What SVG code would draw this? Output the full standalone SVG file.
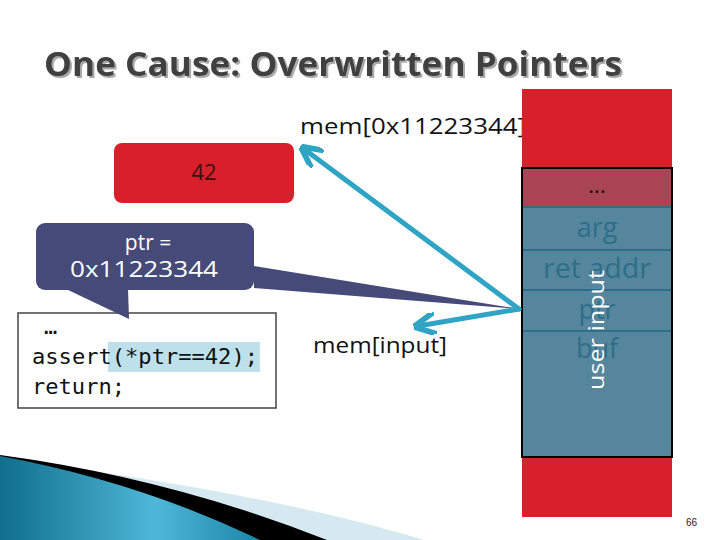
<svg xmlns="http://www.w3.org/2000/svg" width="720" height="540" viewBox="0 0 720 540">
<defs>
<style>
.t{font-family:"Open Sans","DejaVu Sans",sans-serif;}
.mono{font-family:"DejaVu Sans Mono","Liberation Mono",monospace;font-size:22px;fill:#111;}
.cell{font-family:"Open Sans","DejaVu Sans",sans-serif;font-size:27px;fill:#2c6f88;text-anchor:middle;}
.line{stroke:#2c6f88;stroke-width:2;}
.arr{stroke:#2fa4c4;stroke-width:5;fill:none;stroke-linecap:round;}
</style>
<filter id="sh" x="-5%" y="-20%" width="110%" height="140%">
<feDropShadow dx="2" dy="2" stdDeviation="0.6" flood-color="#aaa" flood-opacity="1"/>
</filter>
<linearGradient id="tg" x1="0" y1="0" x2="1" y2="0">
<stop offset="0" stop-color="#0f6f8c"/>
<stop offset="0.6" stop-color="#4fb7d8"/>
<stop offset="1" stop-color="#1a86a8"/>
</linearGradient>
<marker id="ah" viewBox="0 0 10 10" refX="8" refY="5" markerWidth="4.4" markerHeight="4.4" orient="auto">
<path d="M0,0 L10,5 L0,10" fill="none" stroke="#2fa4c4" stroke-width="2.6" stroke-linejoin="miter"/>
</marker>
</defs>
<rect width="720" height="540" fill="#fff"/>

<g id="decor">
<path d="M0,455 L100,472 Q300,502 424,540 L0,540 Z" fill="#d7e9f0"/>
<path d="M0,455 Q170,478 327,540 L0,540 Z" fill="#000"/>
<path d="M0,456 Q140,482 260,540 L0,540 Z" fill="url(#tg)"/>
</g>

<g id="title">
<text x="44" y="76" class="t" font-size="34" font-weight="bold" fill="#404040" filter="url(#sh)" textLength="578" lengthAdjust="spacingAndGlyphs">One Cause: Overwritten Pointers</text>
</g>

<g id="label-mem-addr">
<text x="300" y="134" class="t" font-size="21" fill="#111" textLength="226" lengthAdjust="spacingAndGlyphs">mem[0x11223344]</text>
</g>

<g id="stack">
<rect x="522" y="89" width="150" height="428" fill="#d9202a"/>
<rect x="522" y="168" width="150" height="39" fill="#a84454"/>
<rect x="522" y="207" width="150" height="250" fill="#55869e"/>
<line x1="522" y1="207" x2="672" y2="207" class="line"/>
<line x1="522" y1="250" x2="672" y2="250" class="line"/>
<line x1="522" y1="290" x2="672" y2="290" class="line"/>
<line x1="522" y1="331" x2="672" y2="331" class="line"/>
<rect x="522" y="168" width="150" height="289" fill="none" stroke="#000" stroke-width="2"/>
<text x="597" y="193" class="t" font-size="22" fill="#111" text-anchor="middle">...</text>
<text x="597" y="237" class="cell">arg</text>
<text x="597" y="278" class="cell" textLength="108" lengthAdjust="spacingAndGlyphs">ret addr</text>
<text x="597" y="319" class="cell">ptr</text>
<text x="597" y="358" class="cell">buf</text>
<text transform="translate(604,330) rotate(-90)" class="t" font-size="21" fill="#fff" text-anchor="middle" textLength="120" lengthAdjust="spacingAndGlyphs">user input</text>
</g>

<g id="value-42">
<rect x="114" y="143" width="180" height="60" rx="8" fill="#d9202a"/>
<text x="204" y="180" class="t" font-size="22" fill="#3a1212" text-anchor="middle">42</text>
</g>

<g id="code">
<rect x="18" y="313" width="258" height="95" fill="#fff" stroke="#444" stroke-width="1.5"/>
<rect x="108" y="342" width="152" height="30" fill="#bde0ea"/>
<text x="44" y="334" class="mono" font-size="12">…</text>
<text x="32" y="364" class="mono" textLength="226" lengthAdjust="spacingAndGlyphs">assert(*ptr==42);</text>
<text x="32" y="394" class="mono" textLength="93" lengthAdjust="spacingAndGlyphs">return;</text>
</g>

<g id="callout">
<path d="M254,266 L520,309 L254,288 Z" fill="#454a78"/>
<rect x="36" y="223" width="218" height="67" rx="9" fill="#454a78"/>
<path d="M66,289 L129,319 L128,289 Z" fill="#454a78"/>
<text x="148" y="250" class="t" font-size="21" fill="#fff" text-anchor="middle">ptr =</text>
<text x="144" y="277" class="t" font-size="21" fill="#fff" text-anchor="middle" textLength="148" lengthAdjust="spacingAndGlyphs">0x11223344</text>
</g>

<g id="connectors">
<line x1="519" y1="309" x2="304" y2="149" class="arr" marker-end="url(#ah)"/>
<line x1="519" y1="309" x2="418" y2="326" class="arr" marker-end="url(#ah)"/>
</g>

<g id="label-mem-input">
<text x="313" y="353" class="t" font-size="22" fill="#111" textLength="134" lengthAdjust="spacingAndGlyphs">mem[input]</text>
</g>

<text x="697" y="526" font-family="Liberation Sans,sans-serif" font-size="10" fill="#222" text-anchor="end">66</text>
</svg>
